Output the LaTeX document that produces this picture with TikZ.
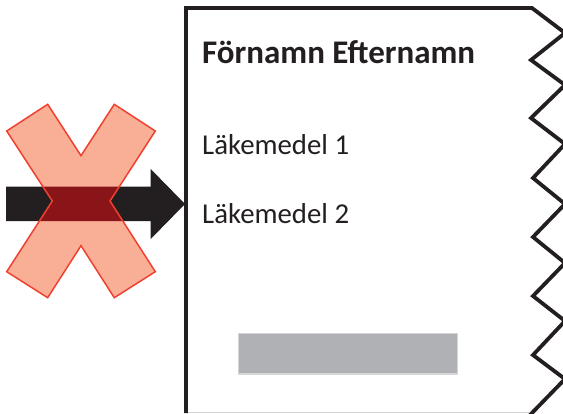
\documentclass[tikz,border=0pt]{standalone}
\usepackage{fontspec}
\setmainfont{Carlito}
\definecolor{inkdark}{HTML}{231F20}
\definecolor{crossfill}{HTML}{F9AE96}
\definecolor{crossline}{HTML}{EE4130}
\definecolor{overlap}{HTML}{8A1518}
\definecolor{barfill}{HTML}{B0B1B4}
\definecolor{barline}{HTML}{D6D6D8}
\tikzset{
  pageline/.style={draw=inkdark,line width=3.8pt,line join=miter},
  label/.style={anchor=base west,inner sep=0pt,text=inkdark,font=\fontsize{28.8}{32}\selectfont},
  title/.style={anchor=base west,inner sep=0pt,text=inkdark,font=\fontsize{33}{36}\selectfont\bfseries},
}
\def\arrowshape{(6,186.5) -- (150.7,186.5) -- (150.7,169) -- (185,204) -- (150.7,239) -- (150.7,221) -- (6,221) -- cycle}
\def\crossshape{(47.7,104.3) -- (81,155.7) -- (114.3,104.3) -- (155.3,131) -- (110,201) -- (155.3,271.7) -- (114.3,297.7) -- (81,245.7) -- (47.7,297.7) -- (6.7,271.7) -- (52.3,201) -- (6.7,131) -- cycle}
\begin{document}
\begin{tikzpicture}[x=1pt,y=-1pt]
\useasboundingbox (0,0) rectangle (563,413);
\clip (0,0) rectangle (563,413);
% page
\draw[barline,line width=1pt] (186,412) -- (533,412);
\draw[pageline] (186,413) -- (186,8) -- (532,8) -- (565,33) -- (531,60) -- (565,85) -- (531,118) -- (565,144) -- (533,178) -- (565,204) -- (533,237) -- (565,263) -- (533,296) -- (565,321) -- (533,355) -- (565,379) -- (530,415);
% arrow and cross
\fill[inkdark] \arrowshape;
\fill[crossfill] \crossshape;
\begin{scope}
  \clip \crossshape;
  \fill[overlap] \arrowshape;
\end{scope}
\draw[crossline,line width=1.5pt,line join=miter] \crossshape;
% texts
\node[title] (name) at (202,63) {Förnamn Efternamn};
\node[label] (drug1) at (202,154) {Läkemedel 1};
\node[label] (drug2) at (202,223) {Läkemedel 2};
% grey bar
\node[draw=barline,fill=barfill,line width=1.5pt,minimum width=219pt,minimum height=40.5pt,inner sep=0pt,outer sep=0pt] (bar) at (348.2,353.5) {};
\end{tikzpicture}
\end{document}
